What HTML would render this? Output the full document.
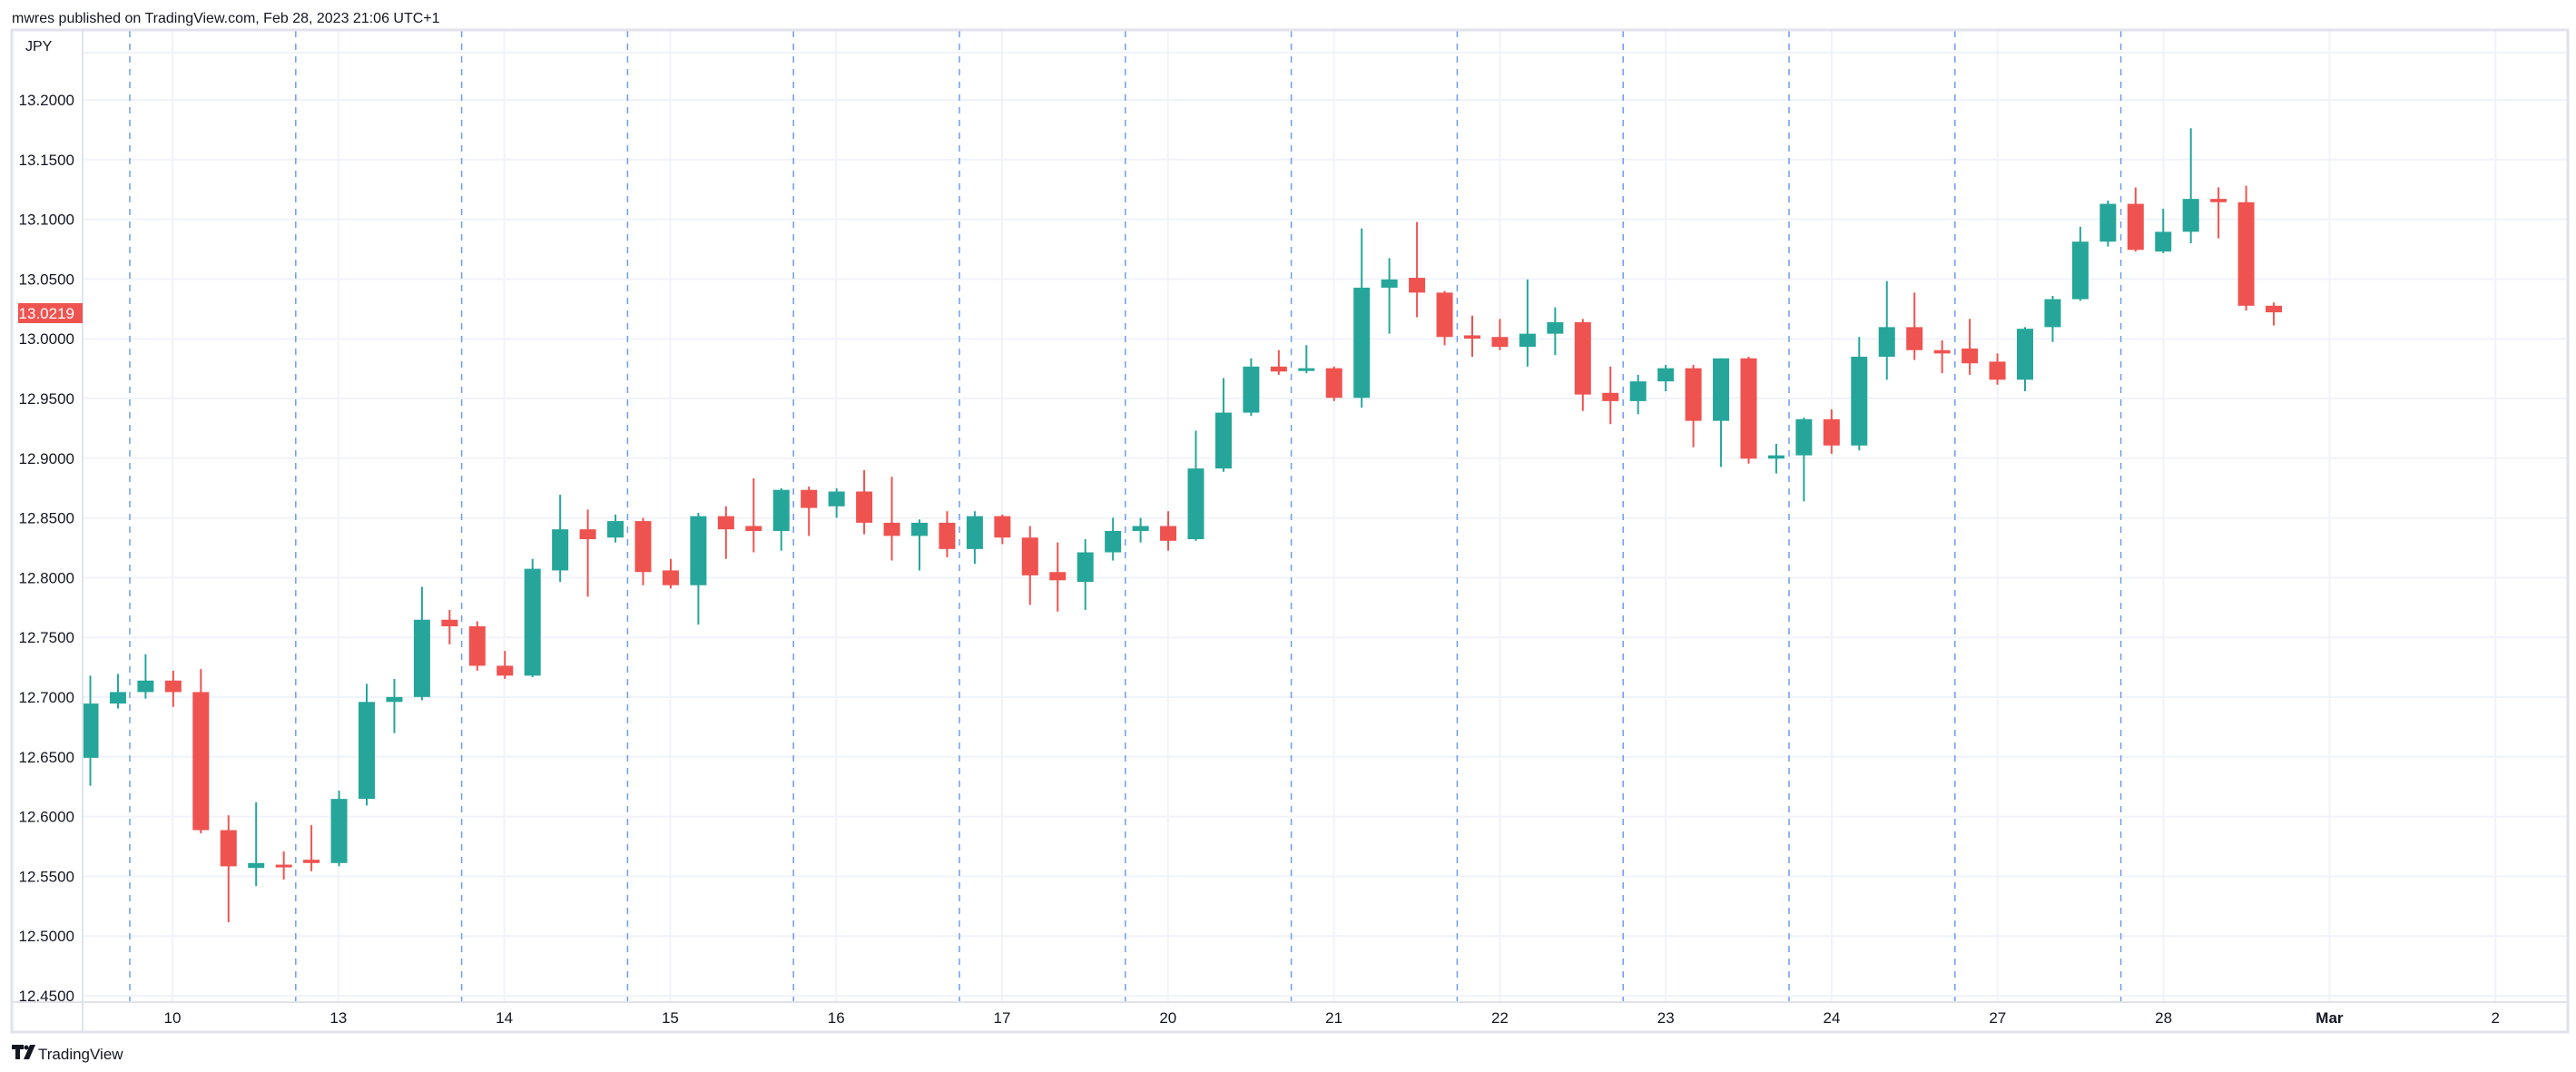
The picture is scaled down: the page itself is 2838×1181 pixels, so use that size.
<!DOCTYPE html>
<html><head><meta charset="utf-8"><style>
body{margin:0;background:#fff;width:2838px;height:1181px;overflow:hidden}
svg{display:block;font-family:"Liberation Sans",sans-serif}
</style></head><body>
<svg id="s" width="2838" height="1181" xmlns="http://www.w3.org/2000/svg">
<rect width="2838" height="1181" fill="#fff"/>
<text x="13" y="25" font-size="16" fill="#131722">mwres published on TradingView.com, Feb 28, 2023 21:06 UTC+1</text>
<g id="grid"></g>
<g id="c"></g>
<rect x="13" y="33" width="2816" height="1104" fill="none" stroke="#e0e3eb" stroke-width="3"/>
<line x1="91" y1="33" x2="91" y2="1137" stroke="#e0e3eb" stroke-width="2"/>
<line x1="13" y1="1104" x2="2829" y2="1104" stroke="#e0e3eb" stroke-width="2"/>
<text x="28" y="56" font-size="16" fill="#131722">JPY</text>
<g id="lab" font-size="17" fill="#131722"></g>
<rect x="20" y="334" width="71" height="22" fill="#ef5350"/>
<text x="82" y="351" font-size="17" fill="#fff" text-anchor="end">13.0219</text>
<g transform="translate(13,1151)"><path d="M0 0h13v5h-4v11h-5v-11h-4z M20 0h6l-7 16h-6z" fill="#131722"/><circle cx="16" cy="3" r="2.5" fill="#131722"/></g>
<text x="42" y="1167" font-size="17" fill="#131722">TradingView</text>
</svg>
<script>
var NS="http://www.w3.org/2000/svg";
function el(p,t,a,txt){var e=document.createElementNS(NS,t);for(var k in a)e.setAttribute(k,a[k]);if(txt)e.textContent=txt;p.appendChild(e);return e;}
var g=document.getElementById('grid'),lab=document.getElementById('lab'),c=document.getElementById('c');
var prices=["13.2000","13.1500","13.1000","13.0500","13.0000","12.9500","12.9000","12.8500","12.8000","12.7500","12.7000","12.6500","12.6000","12.5500","12.5000","12.4500"];
for(var i=0;i<16;i++){var y=110+i*65.8;
 el(g,'line',{x1:92,x2:2828,y1:y,y2:y,stroke:'#f0f3fa','stroke-width':2});
 el(lab,'text',{x:82,y:y+6,'text-anchor':'end'},prices[i]);}
el(g,'line',{x1:92,x2:2828,y1:58,y2:58,stroke:'#f0f3fa','stroke-width':2});
var days=["10","13","14","15","16","17","20","21","22","23","24","27","28","Mar","2"];
for(var d=0;d<15;d++){var x=190+d*182.8;
 el(g,'line',{x1:x,x2:x,y1:34,y2:1104,stroke:'#f0f3fa','stroke-width':2});
 el(lab,'text',{x:x,y:1127,'text-anchor':'middle','font-weight':days[d]=="Mar"?'bold':'normal'},days[d]);
 if(d<13){var dx=x-47;el(g,'line',{x1:dx,x2:dx,y1:34,y2:1104,stroke:'#6f9cf2','stroke-width':1.5,'stroke-dasharray':'7,7'});}
}
var D=[
[1,428,461,411,478],[1,421,428,410,431],[1,414,421,398,425],[0,414,421,408,430],[0,421,505,407,507],
[0,505,527,496,561],[1,525,528,488,539],[0,526,527,518,535],[0,523,525,502,530],[1,486,525,481,527],
[1,427,486,416,490],[1,424,427,413,446],[1,377,424,357,426],[0,377,381,371,392],[0,381,405,378,408],
[0,405,411,396,413],[1,346,411,340,412],[1,322,347,301,354],[0,322,328,310,363],[1,317,327,313,330],
[0,317,348,315,356],[0,347,356,340,358],[1,314,356,312,380],[0,314,322,308,340],[0,320,323,291,336],
[1,298,323,297,335],[0,298,309,296,326],[1,299,308,297,315],[0,299,318,286,325],[0,318,326,290,341],
[1,318,326,316,347],[0,318,334,311,339],[1,314,334,311,343],[0,314,327,313,331],[0,327,350,320,368],
[0,348,353,330,372],[1,336,354,328,371],[1,323,336,315,341],[1,320,323,315,330],[0,320,329,311,335],
[1,285,328,262,329],[1,251,285,230,287],[1,223,251,218,253],[0,223,226,213,228],[1,224,225,210,227],
[0,224,242,223,244],[1,175,242,139,248],[1,170,175,157,203],[0,169,178,135,193],[0,178,205,177,210],
[0,204,206,192,217],[0,205,211,194,213],[1,203,211,170,223],[1,196,203,187,216],[0,196,240,194,250],
[0,239,244,223,258],[1,232,244,228,252],[1,224,232,222,238],[0,224,256,222,272],[1,218,256,218,284],
[0,218,279,217,282],[1,277,279,270,288],[1,255,277,254,305],[0,255,271,249,276],[1,217,271,205,274],
[1,199,217,171,231],[0,199,213,178,219],[0,213,215,207,227],[0,212,221,194,228],[0,220,231,215,234],
[1,200,231,199,238],[1,182,199,180,208],[1,147,182,138,183],[1,124,147,122,150],[0,124,152,114,153],
[1,141,153,127,154],[1,121,141,78,148],[0,121,123,114,145],[0,123,186,113,189],[0,186,190,184,198]];
var S=1.811;
D.forEach(function(r,i){var x=99.5+i*30.45,col=r[0]?'#26a69a':'#ef5350';
 el(c,'line',{x1:x,x2:x,y1:r[3]*S,y2:r[4]*S,stroke:col,'stroke-width':2});
 var t=r[1]*S,b=r[2]*S;if(b-t<3)b=t+3;
 el(c,'rect',{x:x-9,y:t,width:18,height:b-t,fill:col});});
</script>
</body></html>
